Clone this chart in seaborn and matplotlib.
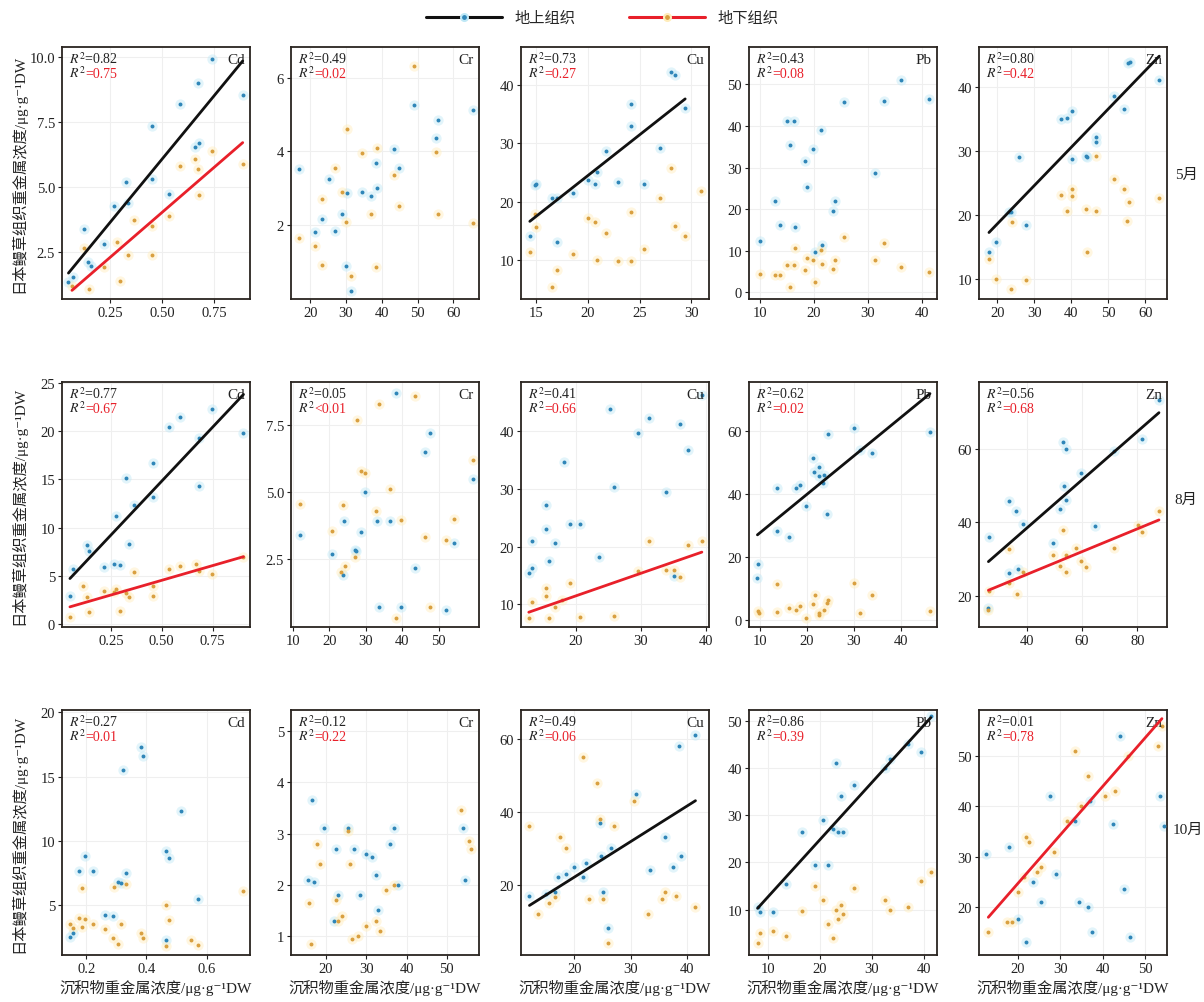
import numpy as np
import pandas as pd
import matplotlib
matplotlib.use("Agg")
import matplotlib.pyplot as plt
from matplotlib.lines import Line2D
from matplotlib.transforms import offset_copy
import seaborn as sns

sns.set_theme(style="white")
plt.rcParams["font.family"] = ["Liberation Serif", "Noto Sans CJK SC", "DejaVu Sans"]
plt.rcParams["mathtext.fontset"] = "stix"
plt.rcParams["axes.unicode_minus"] = False

months = ["5月", "8月", "10月"]
metals = ["Cd", "Cr", "Cu", "Pb", "Zn"]
tissues = ["地上组织", "地下组织"]

# ---------------- data: (sediment, tissue) pairs ----------------
may_cd_above = [(0.07, 1.55), (0.123, 3.40), (0.142, 2.14), (0.221, 2.81), (0.271, 4.27), (0.326, 5.19),
                (0.338, 4.41), (0.452, 7.36), (0.452, 5.32), (0.533, 4.73), (0.584, 8.20), (0.659, 6.55),
                (0.670, 9.00), (0.677, 6.71), (0.739, 9.94), (0.887, 8.56), (0.05, 1.35), (0.16, 1.95)]
may_cd_below = [(0.067, 1.19), (0.123, 2.67), (0.151, 1.08), (0.221, 1.92), (0.282, 2.91), (0.298, 1.38),
                (0.338, 2.40), (0.366, 3.75), (0.452, 3.49), (0.452, 2.40), (0.533, 3.89), (0.584, 5.82),
                (0.659, 6.07), (0.670, 5.68), (0.677, 4.69), (0.739, 6.40), (0.887, 5.88)]
may_cr_above = [(16.9, 3.51), (25.1, 3.23), (23.3, 2.16), (21.2, 1.80), (26.9, 1.83), (28.9, 2.30), (30.3, 2.87),
                (30.0, 0.87), (31.4, 0.18), (34.4, 2.89), (36.9, 2.79), (38.5, 3.69), (38.7, 3.00), (43.4, 4.05),
                (44.8, 3.55), (49.0, 5.27), (55.1, 4.36), (55.6, 4.84), (65.6, 5.13)]
may_cr_below = [(16.9, 1.64), (21.2, 1.42), (23.3, 2.69), (23.3, 0.90), (26.9, 3.53), (28.9, 2.89), (30.0, 2.07),
                (30.3, 4.60), (31.4, 0.59), (34.4, 3.95), (36.9, 2.28), (38.7, 4.10), (38.5, 0.83), (43.4, 3.35),
                (44.8, 2.51), (49.1, 6.33), (55.1, 3.99), (55.6, 2.30), (65.6, 2.05)]
may_cu_above = [(14.4, 14.1), (14.9, 22.9), (15.0, 23.0), (16.5, 20.7), (17.0, 20.6), (17.0, 13.1), (18.6, 21.5),
                (20.0, 23.7), (20.7, 23.0), (20.9, 25.1), (21.8, 28.7), (22.9, 23.3), (24.2, 36.6), (24.2, 33.0),
                (25.4, 23.0), (27.0, 29.1), (28.0, 42.1), (28.4, 41.7), (29.4, 36.0)]
may_cu_below = [(14.4, 11.4), (14.9, 17.9), (15.0, 15.7), (16.5, 5.4), (17.0, 8.4), (18.6, 11.1), (20.0, 17.3),
                (20.7, 16.6), (20.9, 10.0), (21.8, 14.7), (22.9, 9.9), (24.2, 18.3), (24.2, 9.9), (25.4, 11.9),
                (27.0, 20.7), (28.0, 25.8), (28.4, 15.9), (29.4, 14.1), (30.9, 21.9)]
may_pb_above = [(10.0, 12.3), (12.9, 21.9), (13.7, 16.1), (15.0, 41.3), (16.4, 41.3), (15.5, 35.5), (16.6, 15.6),
                (18.3, 31.7), (18.8, 25.4), (19.9, 34.5), (20.3, 9.7), (21.4, 39.0), (21.5, 11.5), (23.6, 19.6),
                (24.0, 22.0), (25.5, 45.7), (31.3, 28.8), (32.9, 46.0), (36.2, 51.1), (41.3, 46.6)]
may_pb_below = [(10.0, 4.4), (12.9, 4.2), (13.7, 4.2), (15.0, 6.5), (15.5, 1.2), (16.4, 6.6), (16.6, 10.6),
                (18.3, 5.4), (18.8, 8.3), (19.9, 7.7), (20.3, 2.4), (21.4, 10.3), (21.5, 6.9), (23.6, 5.6),
                (24.0, 7.7), (25.5, 13.3), (31.3, 7.7), (32.9, 11.8), (36.2, 6.2), (41.3, 5.0)]
may_zn_above = [(17.7, 14.3), (19.6, 15.8), (23.2, 20.4), (23.6, 20.5), (25.9, 29.1), (27.6, 18.5), (37.1, 34.9),
                (38.9, 35.1), (40.2, 36.2), (40.2, 28.8), (44.0, 29.2), (44.3, 29.0), (46.6, 32.1), (46.8, 31.4),
                (51.6, 38.5), (54.2, 36.5), (55.3, 43.7), (55.9, 43.8), (63.8, 41.0)]
may_zn_below = [(17.7, 13.2), (19.6, 10.0), (23.6, 8.4), (23.9, 18.9), (27.6, 9.9), (37.1, 23.1), (38.9, 20.6),
                (40.2, 24.0), (40.2, 22.9), (44.0, 21.0), (44.3, 14.3), (46.8, 29.2), (46.8, 20.7), (51.6, 25.6),
                (54.2, 24.1), (55.7, 22.1), (55.0, 19.0), (63.8, 22.7)]

aug_cd_above = [(0.048, 2.9), (0.065, 5.7), (0.132, 8.2), (0.140, 7.6), (0.216, 5.9), (0.263, 6.2), (0.273, 11.2),
                (0.293, 6.1), (0.324, 15.1), (0.337, 8.3), (0.363, 12.4), (0.455, 16.7), (0.455, 13.2),
                (0.537, 20.4), (0.588, 21.5), (0.684, 14.3), (0.681, 19.3), (0.748, 22.3), (0.902, 19.8)]
aug_cd_below = [(0.048, 0.8), (0.111, 4.0), (0.132, 2.8), (0.140, 1.3), (0.216, 3.5), (0.263, 3.3), (0.273, 3.7),
                (0.293, 1.4), (0.324, 3.2), (0.337, 2.8), (0.363, 5.4), (0.455, 4.0), (0.455, 2.9), (0.537, 5.7),
                (0.588, 6.0), (0.666, 6.2), (0.684, 5.5), (0.748, 5.2), (0.902, 7.0)]
aug_cr_above = [(12.0, 3.4), (20.6, 2.7), (23.6, 1.9), (24.1, 3.9), (27.1, 2.85), (27.3, 2.8), (28.6, 3.5),
                (29.8, 5.0), (33.0, 3.9), (33.7, 0.7), (36.7, 3.9), (38.3, 8.7), (39.7, 0.7), (43.5, 2.15),
                (46.4, 6.5), (47.6, 7.2), (52.1, 0.6), (54.3, 3.1), (59.5, 5.5)]
aug_cr_below = [(12.0, 4.57), (20.6, 3.53), (23.7, 4.5), (24.2, 2.25), (23.2, 2.0), (27.1, 2.56), (27.5, 7.68),
                (28.6, 5.8), (29.8, 5.7), (32.8, 4.28), (33.5, 8.3), (36.7, 5.1), (39.7, 3.94), (38.3, 0.3),
                (43.4, 8.6), (46.4, 3.3), (47.6, 0.7), (52.1, 3.2), (54.3, 3.98), (59.5, 6.2)]
aug_cu_above = [(12.7, 15.4), (13.2, 16.3), (13.2, 21.0), (15.3, 27.3), (15.3, 23.0), (15.8, 17.6), (16.8, 20.7),
                (18.2, 34.6), (19.1, 24.0), (20.6, 24.0), (23.5, 18.2), (25.2, 43.9), (25.9, 30.3), (29.5, 39.6),
                (31.3, 42.2), (33.8, 29.5), (35.1, 15.0), (36.0, 41.2), (37.2, 36.7), (39.4, 46.3)]
aug_cu_below = [(12.7, 7.7), (13.2, 10.4), (15.3, 12.8), (15.3, 11.4), (15.8, 7.7), (16.8, 9.6), (17.9, 10.7),
                (19.1, 13.8), (20.6, 7.9), (25.9, 8.0), (29.5, 15.8), (31.3, 21.0), (33.8, 15.9), (35.1, 15.9),
                (36.0, 14.8), (37.2, 20.3), (39.4, 21.0)]
aug_pb_above = [(9.6, 18.0), (9.4, 13.5), (13.6, 42.1), (13.6, 28.3), (16.1, 26.3), (17.6, 42.1), (18.6, 42.8),
                (19.8, 36.3), (21.3, 51.5), (21.6, 46.9), (22.5, 48.5), (22.6, 45.9), (23.4, 43.5), (23.6, 46.2),
                (24.3, 33.8), (24.4, 59.1), (30.1, 61.1), (31.4, 54.1), (33.9, 53.1), (46.3, 59.8)]
aug_pb_below = [(9.6, 3.0), (9.8, 2.3), (13.6, 11.4), (13.6, 2.8), (16.2, 3.8), (17.6, 3.4), (18.6, 4.7),
                (19.8, 0.7), (21.3, 5.2), (21.8, 8.2), (22.5, 2.2), (22.6, 1.8), (23.6, 3.4), (24.3, 5.4),
                (24.5, 6.5), (30.1, 11.9), (31.4, 2.2), (33.9, 8.1), (46.3, 3.1)]
aug_zn_above = [(26.4, 36.1), (26.2, 16.7), (33.6, 45.9), (33.5, 26.3), (36.2, 43.1), (36.8, 27.3), (38.6, 39.6),
                (49.6, 34.5), (52.0, 43.6), (53.3, 61.8), (54.4, 60.0), (53.5, 49.8), (54.4, 46.2), (59.8, 53.4),
                (64.6, 38.9), (71.5, 59.4), (81.7, 62.6), (87.8, 73.3)]
aug_zn_below = [(26.4, 21.2), (26.2, 16.1), (33.6, 32.8), (33.5, 23.5), (36.6, 20.6), (38.6, 26.6), (49.6, 31.1),
                (52.0, 28.1), (53.3, 38.0), (54.4, 31.1), (54.4, 26.6), (58.0, 33.1), (59.8, 29.5), (61.4, 27.7),
                (71.5, 32.9), (80.3, 39.3), (81.7, 37.3), (87.8, 43.1)]

oct_cd_above = [(0.147, 2.47), (0.158, 2.78), (0.177, 7.66), (0.195, 8.78), (0.224, 7.66), (0.263, 4.23),
                (0.290, 4.16), (0.307, 6.80), (0.314, 6.68), (0.332, 7.45), (0.323, 15.5), (0.381, 17.3),
                (0.389, 16.6), (0.466, 9.20), (0.475, 8.65), (0.466, 2.26), (0.515, 12.3), (0.570, 5.50)]
oct_cd_below = [(0.147, 3.5), (0.156, 3.2), (0.177, 4.0), (0.185, 6.3), (0.185, 3.25), (0.195, 3.9), (0.224, 3.5),
                (0.263, 3.1), (0.290, 2.4), (0.307, 1.95), (0.314, 3.5), (0.293, 6.4), (0.332, 6.6), (0.381, 2.85),
                (0.389, 2.4), (0.466, 5.0), (0.475, 3.8), (0.466, 1.8), (0.548, 2.3), (0.570, 1.9), (0.719, 6.05)]
oct_cr_above = [(16.5, 3.65), (15.5, 2.1), (17.0, 2.05), (19.5, 3.1), (22.5, 2.7), (23.0, 1.8), (25.5, 3.1),
                (27.0, 2.7), (28.5, 1.8), (30.0, 2.6), (31.5, 2.55), (32.5, 2.2), (33.0, 1.5), (36.0, 2.8),
                (37.0, 3.1), (38.0, 2.0), (54.0, 3.1), (54.5, 2.1), (22.0, 1.3)]
oct_cr_below = [(15.8, 1.65), (16.2, 0.85), (17.8, 2.8), (18.5, 2.4), (22.5, 1.7), (23.0, 1.3), (24.0, 1.4),
                (25.5, 3.05), (26.0, 2.4), (26.5, 0.95), (28.0, 1.0), (30.0, 1.2), (32.5, 1.3), (33.5, 1.1),
                (35.0, 1.9), (37.0, 2.0), (53.5, 3.45), (55.5, 2.85), (56.0, 2.7)]
oct_cu_above = [(12.0, 17.0), (15.0, 17.5), (16.5, 18.0), (17.0, 22.0), (18.5, 23.0), (20.0, 25.0), (21.5, 22.0),
                (22.0, 26.0), (24.5, 37.0), (24.8, 28.0), (25.0, 18.0), (26.0, 8.0), (26.5, 30.0), (31.0, 45.0),
                (33.5, 24.0), (36.0, 33.0), (37.5, 25.0), (38.5, 58.0), (39.0, 28.0), (41.5, 61.0)]
oct_cu_below = [(12.0, 36.0), (13.5, 12.0), (15.5, 15.0), (16.5, 16.5), (17.5, 33.0), (18.5, 30.0), (21.5, 55.0),
                (22.5, 16.0), (24.0, 48.0), (24.5, 38.0), (25.0, 16.0), (26.0, 4.0), (27.0, 36.0), (30.5, 43.0),
                (33.0, 12.0), (35.5, 16.0), (36.0, 18.0), (38.0, 17.0), (41.5, 14.0)]
oct_pb_above = [(8.0, 10.5), (8.5, 9.5), (11.0, 9.5), (13.5, 15.5), (16.5, 26.5), (19.0, 19.5), (20.5, 29.0),
                (21.5, 19.5), (22.5, 27.0), (23.0, 41.0), (23.5, 26.5), (24.0, 34.0), (24.5, 26.5), (26.5, 36.5),
                (32.5, 40.0), (33.5, 42.0), (37.0, 45.0), (39.5, 43.5), (41.3, 51.0)]
oct_pb_below = [(8.0, 3.0), (8.5, 5.0), (11.0, 5.5), (13.5, 4.5), (16.5, 9.8), (19.0, 15.0), (20.5, 12.0),
                (21.5, 7.0), (22.5, 4.0), (23.0, 10.0), (23.5, 8.0), (24.0, 11.0), (24.5, 9.0), (26.5, 14.5),
                (32.5, 12.0), (33.5, 10.0), (37.0, 10.5), (39.5, 16.0), (41.3, 18.0)]
oct_zn_above = [(12.5, 30.5), (18.0, 32.0), (20.0, 17.5), (22.0, 13.0), (23.5, 25.0), (25.5, 21.0), (27.5, 42.0),
                (29.0, 26.5), (33.5, 37.0), (34.5, 21.0), (36.5, 20.0), (37.0, 41.0), (37.5, 15.0), (42.5, 36.5),
                (44.0, 54.0), (45.0, 23.5), (46.5, 14.0), (53.5, 42.0), (54.5, 36.0)]
oct_zn_below = [(13.0, 15.0), (17.5, 17.0), (18.5, 17.0), (20.0, 23.0), (21.5, 26.0), (22.0, 34.0), (22.5, 33.0),
                (24.5, 27.0), (25.5, 28.0), (28.5, 31.0), (31.5, 37.0), (33.5, 51.0), (35.0, 40.0), (36.5, 46.0),
                (40.5, 42.0), (43.0, 43.0), (46.0, 50.0), (53.0, 52.0), (54.0, 56.0)]

r2_above = [["0.82", "0.49", "0.73", "0.43", "0.80"],
            ["0.77", "0.05", "0.41", "0.62", "0.56"],
            ["0.27", "0.12", "0.49", "0.86", "0.01"]]
r2_below = [["=0.75", "=0.02", "=0.27", "=0.08", "=0.42"],
            ["=0.67", "<0.01", "=0.66", "=0.02", "=0.68"],
            ["=0.01", "=0.22", "=0.06", "=0.39", "=0.78"]]
fit_above = [[1, 0, 1, 0, 1], [1, 0, 0, 1, 1], [0, 0, 1, 1, 0]]
fit_below = [[1, 0, 0, 0, 0], [1, 0, 1, 0, 1], [0, 0, 0, 0, 1]]

panels = [[may_cd_above, may_cd_below], [may_cr_above, may_cr_below], [may_cu_above, may_cu_below],
          [may_pb_above, may_pb_below], [may_zn_above, may_zn_below],
          [aug_cd_above, aug_cd_below], [aug_cr_above, aug_cr_below], [aug_cu_above, aug_cu_below],
          [aug_pb_above, aug_pb_below], [aug_zn_above, aug_zn_below],
          [oct_cd_above, oct_cd_below], [oct_cr_above, oct_cr_below], [oct_cu_above, oct_cu_below],
          [oct_pb_above, oct_pb_below], [oct_zn_above, oct_zn_below]]

rows = []
for k, (ab, be) in enumerate(panels):
    i, j = divmod(k, 5)
    for tis, pts in zip(tissues, (ab, be)):
        for x, y in pts:
            rows.append(dict(month=months[i], metal=metals[j], tissue=tis, sed=x, plant=y))
df = pd.DataFrame(rows)

# ---------------- layout / styling ----------------
W, H = 1204, 1003
fig = plt.figure(figsize=(W / 100, H / 100), dpi=100)

col_left = [62, 291, 521, 749, 979]
col_w = 188
row_top = [48, 383, 711]
row_bot = [300, 628, 956]

xlims = [[(0.019, 0.922), (14.6, 67.2), (13.55, 31.7), (8.0, 42.8), (15.0, 65.9)],
         [(0.009, 0.934), (9.45, 61.1), (11.5, 40.5), (7.6, 47.8), (22.8, 90.7)],
         [(0.12, 0.743), (11.3, 58.0), (10.5, 43.9), (6.35, 42.5), (10.8, 55.2)]]
ylims = [[(0.70, 10.39), (-0.03, 6.84), (3.4, 46.4), (-1.6, 59.0), (6.9, 46.2)],
         [(-0.27, 25.07), (-0.05, 9.12), (6.1, 48.5), (-2.1, 75.6), (11.5, 78.2)],
         [(1.1, 20.18), (0.63, 5.41), (0.7, 68.0), (0.4, 52.3), (10.4, 59.2)]]
xticks = [[[0.25, 0.5, 0.75], [20, 30, 40, 50, 60], [15, 20, 25, 30], [10, 20, 30, 40], [20, 30, 40, 50, 60]],
          [[0.25, 0.5, 0.75], [10, 20, 30, 40, 50], [20, 30, 40], [10, 20, 30, 40], [40, 60, 80]],
          [[0.2, 0.4, 0.6], [20, 30, 40, 50], [20, 30, 40], [10, 20, 30, 40], [20, 30, 40, 50]]]
yticks = [[[2.5, 5, 7.5, 10], [2, 4, 6], [10, 20, 30, 40], [0, 10, 20, 30, 40, 50], [10, 20, 30, 40]],
          [[0, 5, 10, 15, 20, 25], [2.5, 5, 7.5], [10, 20, 30, 40], [0, 20, 40, 60], [20, 40, 60]],
          [[5, 10, 15, 20], [1, 2, 3, 4, 5], [20, 40, 60], [10, 20, 30, 40, 50], [20, 30, 40, 50]]]
xfmt = [["%.2f", "%d", "%d", "%d", "%d"], ["%.2f", "%d", "%d", "%d", "%d"], ["%.1f", "%d", "%d", "%d", "%d"]]
yfmt = [["%.1f", "%d", "%d", "%d", "%d"], ["%d", "%.1f", "%d", "%d", "%d"], ["%d", "%d", "%d", "%d", "%d"]]

dot_col = {"地上组织": "#2f86b8", "地下组织": "#d9a040"}
halo_col = {"地上组织": "#bfe8f6", "地下组织": "#ffedbb"}
line_col = {"地上组织": "#111111", "地下组织": "#e8202a"}

ylabel = "日本鳗草组织重金属浓度/μg·g⁻¹DW"
xlabel = "沉积物重金属浓度/μg·g⁻¹DW"

red_jobs = []
for i, mon in enumerate(months):
    for j, met in enumerate(metals):
        l = col_left[j] / W
        b = 1 - row_bot[i] / H
        h = (row_bot[i] - row_top[i]) / H
        ax = fig.add_axes([l, b, col_w / W, h])
        sub = df[(df.month == mon) & (df.metal == met)]
        ax.grid(True, color="#efefef", lw=0.8)
        ax.set_axisbelow(True)
        for tis in tissues:
            s = sub[sub.tissue == tis]
            sns.scatterplot(data=s, x="sed", y="plant", ax=ax, s=55, color=halo_col[tis],
                            alpha=0.45, linewidth=0, legend=False, zorder=2)
        for tis in tissues:
            s = sub[sub.tissue == tis]
            sns.scatterplot(data=s, x="sed", y="plant", ax=ax, s=8, color=dot_col[tis],
                            linewidth=0, legend=False, zorder=3)
        for tis, flags in zip(tissues, (fit_above, fit_below)):
            if flags[i][j]:
                s = sub[sub.tissue == tis]
                sns.regplot(data=s, x="sed", y="plant", ax=ax, scatter=False, ci=None, truncate=True,
                            line_kws=dict(color=line_col[tis], lw=2.0, zorder=4))
        ax.set_xlim(*xlims[i][j])
        ax.set_ylim(*ylims[i][j])
        ax.set_xticks(xticks[i][j])
        ax.set_yticks(yticks[i][j])
        ax.set_xticklabels([xfmt[i][j] % v for v in xticks[i][j]])
        ax.set_yticklabels([yfmt[i][j] % v for v in yticks[i][j]])
        ax.tick_params(axis="both", labelsize=10.5, length=3, width=0.8, color="#222222",
                       direction="out", pad=2, labelcolor="#222222")
        ax.tick_params(left=True, bottom=True)
        for sp in ax.spines.values():
            sp.set_color("#2a2420")
            sp.set_linewidth(1.3)
        ax.set_xlabel(xlabel if i == 2 else "", fontsize=11, labelpad=3, color="#222222")
        ax.set_ylabel(ylabel if j == 0 else "", fontsize=11, color="#222222")
        if j == 0:
            ax.yaxis.set_label_coords(-0.19, 0.5)

        ax.text(0, 1, f"$R^2$={r2_above[i][j]}", transform=offset_copy(ax.transAxes, fig, x=7, y=-16, units="dots"),
                fontsize=10, color="#222222", va="baseline", ha="left")
        t2 = ax.text(0, 1, "$R^2$", transform=offset_copy(ax.transAxes, fig, x=7, y=-30, units="dots"),
                     fontsize=10, color="#222222", va="baseline", ha="left")
        red_jobs.append((ax, t2, r2_below[i][j]))
        ax.text(1, 1, met, transform=offset_copy(ax.transAxes, fig, x=-5, y=-16, units="dots"),
                fontsize=11, color="#222222", va="baseline", ha="right")

fig.canvas.draw()
renderer = fig.canvas.get_renderer()
for ax, t2, txt in red_jobs:
    bb = t2.get_window_extent(renderer)
    x0 = ax.transAxes.transform((0, 1))[0]
    ax.text(0, 1, txt, transform=offset_copy(ax.transAxes, fig, x=bb.x1 - x0 - 0.5, y=-30, units="dots"),
            fontsize=10, color="#e8202a", va="baseline", ha="left")

# month labels
for mon, xc, yc in zip(months, [1186, 1186, 1188], [175, 500, 830]):
    fig.text(xc / W, 1 - yc / H, mon, fontsize=11, ha="center", va="center", color="#222222")

handles = [Line2D([], [], color=line_col[t], lw=2.2, marker="o", markersize=5,
                  markerfacecolor=dot_col[t], markeredgecolor=halo_col[t], markeredgewidth=1.5) for t in tissues]
fig.legend(handles, tissues, loc="center", bbox_to_anchor=(0.5, 1 - 19 / H), ncol=2, frameon=False,
           fontsize=11, handlelength=5, columnspacing=3.5, handletextpad=0.8)

fig.savefig("out.png", dpi=100)
